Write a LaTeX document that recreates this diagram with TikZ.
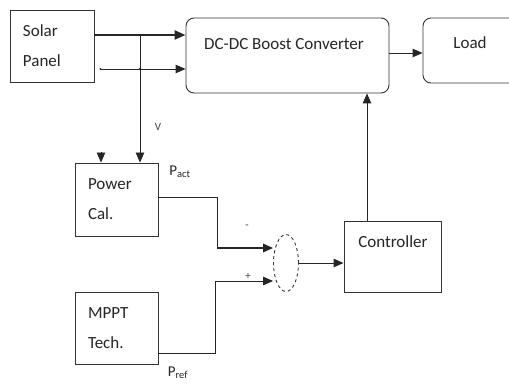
\documentclass[tikz,border=0pt]{standalone}
\usepackage{fontspec}
\setmainfont{Carlito}
\usetikzlibrary{arrows.meta,shapes.geometric}
\tikzset{
  box/.style={draw=black!80, line width=0.9pt, inner sep=0pt, align=left,
    font=\fontsize{17}{30}\selectfont, text=black!85},
  rbox/.style={box, rounded corners=8pt},
  txt/.style={font=\fontsize{17}{30}\selectfont, text=black!85, inner sep=0pt},
  small/.style={font=\fontsize{11}{12}\selectfont, text=black!75, inner sep=0pt},
  wire/.style={draw=black!85, line width=0.9pt},
  arr/.style={wire, -{Triangle[length=10pt 0,width=8.5pt 0]}},
  thickarr/.style={wire, line width=2.2pt, -{Triangle[length=11pt 0,width=9pt 0]}},
}
\begin{document}
\begin{tikzpicture}[x=1pt,y=-1pt]
\useasboundingbox (0,0) rectangle (509,385);
\fill[white] (0,0) rectangle (509,385);
\clip (0,0) rectangle (509,385);

% blocks
\node[box, minimum width=84pt, minimum height=72pt, text width=58pt] (sp) at (52,46) {Solar\\Panel};
\node[rbox, minimum width=203pt, minimum height=75pt] (dc) at (287.5,55.5) {};
\node[txt] (dct) at (284,44) {DC-DC Boost Converter};
\node[rbox, minimum width=100pt, minimum height=65pt] (ld) at (473,50.5) {};
\node[txt] (ldt) at (470,43) {Load};
\node[box, minimum width=83pt, minimum height=73pt, text width=57pt] (pc) at (116.5,199.5) {Power\\Cal.};
\node[box, minimum width=83pt, minimum height=72pt, text width=57pt] (mp) at (116.5,328) {MPPT\\Tech.};
\node[box, minimum width=97pt, minimum height=71pt] (ct) at (392.5,256.5) {};
\node[txt] (ctt) at (393,242) {Controller};
\node[draw=black!80, dashed, line width=0.9pt, ellipse, minimum width=25pt, minimum height=57pt, inner sep=0pt] (sum) at (286,263) {};

% junction coordinates
\coordinate (j1) at (140,35);
\coordinate (j2) at (140,69);
\coordinate (i1) at (101,152);
\coordinate (k1) at (217,248);
\coordinate (k2) at (215,281);

% connectors
\draw[thickarr] ([yshift=11pt]sp.east) -- ([yshift=11pt]sp.east -| dc.west);
\draw[arr] ([shift={(6pt,-23pt)}]sp.east) -- ([yshift=-23pt]sp.east -| dc.west);
\fill[black!85] ([shift={(6pt,-23pt)}]sp.east) circle (1pt);
\fill[black!85] (j2) circle (1.4pt);
\draw[arr] (j1) -- (j1 |- pc.north);
\draw[arr] (i1) -- (i1 |- pc.north);
\draw[wire] ([yshift=2.5pt]pc.east) -| (k1);
\draw[wire, line width=1.8pt, -{Triangle[length=10pt 0,width=8.5pt 0]}] (k1) -- (k1 -| sum.west);
\draw[wire] ([yshift=-25pt]mp.east) -| (k2);
\draw[arr] (k2) -- (k2 -| sum.west);
\draw[arr] (sum.east) -- (sum.east -| ct.west);
\draw[arr] ([xshift=-25.5pt]ct.north) -- ([xshift=-25.5pt]ct.north |- dc.south);
\draw[arr] ([yshift=2.5pt]dc.east) -- ([yshift=2.5pt]dc.east -| ld.west);

% labels
\node[small] (lv) at (158,127) {V};
\node[txt, font=\fontsize{15}{17}\selectfont] (lpa) at (180,172) {P$_{\mathrm{act}}$};
\node[txt, font=\fontsize{15}{17}\selectfont] (lpr) at (178,373) {P$_{\mathrm{ref}}$};
\node[small] (lm) at (247,227) {-};
\node[small] (lp) at (248,276) {+};
\end{tikzpicture}
\end{document}
